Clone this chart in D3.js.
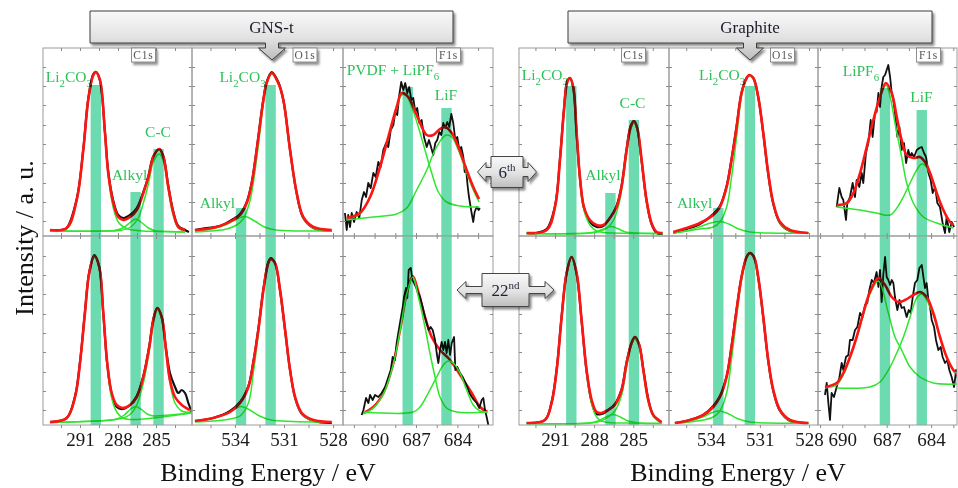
<!DOCTYPE html>
<html><head><meta charset="utf-8">
<script src="https://cdn.jsdelivr.net/npm/d3@7"></script>
<style>body{margin:0;background:#fff}svg{display:block;background:#fff}</style>
</head><body>
<svg id="c" width="958" height="488"></svg>
<script>
// ---------------- DATA ----------------
const samples = ["GNS-t", "Graphite"];
const cycles = ["6th", "22nd"];
const regions = ["C1s", "O1s", "F1s"];
const majorTicks = { C1s: [291, 288, 285], O1s: [534, 531, 528], F1s: [690, 687, 684] };
const minorTicks = { C1s: [292.5, 291, 289.5, 288, 286.5, 285, 283.5], O1s: [535.5, 534, 532.5, 531, 529.5, 528], F1s: [691.5, 690, 688.5, 687, 685.5, 684, 682.5] };
const intensityTicks = [15, 34, 53, 73, 92, 111, 131, 150, 169];
const intensityMax = 188;
const energyRange = {
  "GNS-t": { C1s: [293.92, 282.16], O1s: [536.63, 527.39], F1s: [692.29, 681.42] },
  "Graphite": { C1s: [293.76, 282.26], O1s: [536.55, 527.45], F1s: [691.64, 682.25] }
};
const componentNames = {
  "GNS-t": { C1s: ["Li2CO3", "Alkyl", "C-C"], O1s: ["Li2CO3", "Alkyl"], F1s: ["PVDF + LiPF6", "LiF"] },
  "Graphite": { C1s: ["Li2CO3", "Alkyl", "C-C"], O1s: ["Li2CO3", "Alkyl"], F1s: ["LiPF6", "LiF"] }
};
const peakEnergies = {
  "GNS-t": { C1s: [289.75, 286.61, 284.80], O1s: [531.82, 533.63], F1s: [687.6, 684.79] },
  "Graphite": { C1s: [289.75, 286.75, 284.95], O1s: [531.61, 533.54], F1s: [687.12, 684.63] }
};
// heights of the reference bars in the 6th-cycle row (a.u.)
const barHeights6th = {
  "GNS-t": { C1s: [151, 44, 87], O1s: [151, 28], F1s: [149, 128] },
  "Graphite": { C1s: [150, 43, 116], O1s: [150, 28], F1s: [148, 126] }
};

// ---- GNS-t, 6th cycle ----
const gnst6_C1s_raw = [[293.37,6],[292.5,6],[292.05,8],[291.26,37],[290.74,87],[290.35,137],[289.95,162],[289.74,164],[289.42,155],[289.03,104],[288.77,64],[288.37,35],[287.98,21],[287.58,18],[287.05,21],[286.52,28],[286.0,44],[285.6,60],[285.21,80],[284.74,87],[284.42,80],[284.03,50],[283.63,24],[283.24,10],[282.71,6],[282.4,4]];
const gnst6_C1s_fit = [[293.37,6],[292.05,8],[291.26,36],[290.74,86],[290.35,136],[289.95,161],[289.74,164],[289.42,156],[289.03,103],[288.77,63],[288.37,33],[287.98,19],[287.58,16],[287.05,19],[286.52,26],[286.0,43],[285.6,59],[285.21,79],[284.74,87],[284.42,79],[284.03,49],[283.63,23],[283.24,9],[282.71,6]];
const gnst6_C1s_li2co3 = [[293.37,5],[292.05,7],[291.26,35],[290.74,85],[290.35,135],[289.95,160],[289.74,163],[289.42,155],[289.03,101],[288.77,60],[288.37,28],[287.98,14],[287.58,9],[287.05,6.5],[286.0,5],[284.5,4.5],[282.71,4]];
const gnst6_C1s_alkyl = [[293.37,5],[289,5],[288.3,5.5],[287.6,8],[287.0,14],[286.6,17],[286.2,14],[285.6,8],[285.0,5],[284,4.5],[282.71,4]];
const gnst6_C1s_cc = [[293.37,5],[288.5,5],[287.8,5.5],[287.0,9],[286.4,18],[286.0,33],[285.6,52],[285.21,74],[284.74,82],[284.42,75],[284.03,46],[283.63,20],[283.24,8],[282.71,5]];

const gnst6_O1s_raw = [[536.45,6],[535.73,8],[534.92,10],[534.10,17],[533.69,22],[533.28,34],[532.97,54],[532.67,87],[532.26,137],[532.06,154],[531.75,164],[531.35,154],[531.04,136],[530.63,86],[530.22,42],[529.82,18],[529.2,8],[528.08,5]];
const gnst6_O1s_fit = [[536.45,6],[535.73,7],[534.92,10],[534.10,16],[533.69,21],[533.28,33],[532.97,53],[532.67,86],[532.26,136],[532.06,153],[531.75,163],[531.35,153],[531.04,136],[530.63,86],[530.22,43],[529.82,19],[529.2,9],[528.08,6]];
const gnst6_O1s_li2co3 = [[536.45,4],[535.5,5],[534.5,7],[533.9,11],[533.5,17],[533.1,34],[532.8,62],[532.5,100],[532.26,134],[532.06,152],[531.75,162],[531.35,152],[531.04,135],[530.63,85],[530.22,42],[529.82,18],[529.2,8],[528.08,5]];
const gnst6_O1s_alkyl = [[536.45,5],[535.5,7],[534.6,11],[534.0,16],[533.39,19.5],[532.8,15],[532.2,9],[531.5,6],[530,5],[528.08,5]];

const gnst6_F1s_raw = [[692.15,23],[692.02,6],[691.91,21],[691.78,9],[691.66,23],[691.49,14],[691.30,24],[691.11,18],[690.93,36],[690.77,44],[690.62,39],[690.46,53],[690.28,48],[690.09,63],[689.92,59],[689.73,74],[689.56,69],[689.37,86],[689.17,93],[689.01,89],[688.83,106],[688.64,111],[688.50,124],[688.36,121],[688.21,141],[688.07,154],[687.92,146],[687.78,153],[687.63,143],[687.49,149],[687.34,136],[687.20,138],[687.05,124],[686.91,128],[686.76,113],[686.59,116],[686.42,99],[686.22,89],[686.06,96],[685.89,88],[685.75,81],[685.60,93],[685.46,96],[685.31,104],[685.17,101],[685.02,113],[684.88,108],[684.73,114],[684.59,109],[684.44,122],[684.30,113],[684.15,96],[684.01,99],[683.86,86],[683.72,89],[683.57,79],[683.47,64],[683.38,69],[683.28,53],[683.18,41],[683.09,33],[682.97,23],[682.85,14],[682.75,24],[682.60,29],[682.46,26],[682.37,28]];
const gnst6_F1s_fit = [[692.02,18],[691.06,23],[690.33,39],[689.61,69],[689.01,99],[688.40,129],[688.04,143],[687.56,139],[686.95,121],[686.22,101],[685.75,101],[685.26,107],[684.90,109],[684.41,103],[683.93,89],[683.33,66],[682.85,49],[682.43,37]];
const gnst6_F1s_pvdf = [[692.02,17],[691.06,22],[690.33,38],[689.61,68],[689.01,98],[688.40,127],[688.04,141],[687.7,140],[687.31,129],[686.83,109],[686.35,86],[685.86,63],[685.38,44],[684.78,34],[683.81,30],[682.43,29]];
const gnst6_F1s_lif = [[692.02,16],[690.09,19],[688.40,22],[687.67,28],[686.95,46],[686.22,66],[685.62,86],[685.02,99],[684.78,101],[684.41,99],[683.93,86],[683.33,63],[682.85,46],[682.43,34]];

// ---- GNS-t, 22nd cycle ----
const gnst22_C1s_raw = [[293.37,3],[292.05,7],[291.39,29],[291.0,63],[290.61,113],[290.27,153],[289.87,170],[289.48,158],[289.16,111],[288.85,61],[288.5,31],[288.1,18],[287.63,16],[287.05,20],[286.52,29],[286.0,49],[285.53,79],[285.21,106],[284.9,117],[284.55,108],[284.21,76],[283.9,52],[283.5,38],[283.24,32],[282.97,35],[282.71,32],[282.45,22],[282.18,13]];
const gnst22_C1s_fit = [[293.37,3],[292.05,7],[291.39,28],[291.0,62],[290.61,112],[290.27,152],[289.87,169],[289.48,158],[289.16,112],[288.85,62],[288.5,32],[288.1,20],[287.63,17],[287.05,20],[286.52,28],[286.0,48],[285.53,78],[285.21,105],[284.9,117],[284.55,108],[284.21,75],[283.9,45],[283.5,28],[282.97,20],[282.18,14]];
const gnst22_C1s_li2co3 = [[293.37,2.5],[292.05,6],[291.39,27],[291.0,61],[290.61,111],[290.27,151],[289.87,168],[289.48,157],[289.16,110],[288.85,59],[288.5,27],[288.1,13],[287.63,7],[287.05,5.5],[286.0,6],[284.5,8],[282.18,12]];
const gnst22_C1s_alkyl = [[293.37,2.5],[289,4.5],[288.1,6],[287.5,10],[287.0,16],[286.6,18.5],[286.2,16],[285.7,11],[285.2,9],[284.5,9.5],[282.18,12]];
const gnst22_C1s_cc = [[293.37,2.5],[288.5,5],[287.6,7],[287.0,11],[286.52,20],[286.0,42],[285.53,74],[285.21,102],[284.9,115],[284.55,106],[284.21,72],[283.9,42],[283.5,22],[282.97,14],[282.18,12.5]];

const gnst22_O1s_raw = [[536.45,4],[535.33,7],[534.30,14],[533.69,23],[533.18,39],[532.88,63],[532.57,96],[532.26,136],[531.96,163],[531.81,167],[531.55,162],[531.24,134],[530.93,94],[530.63,55],[530.32,27],[529.91,11],[529.2,4],[528.08,2]];
const gnst22_O1s_fit = [[536.45,4],[535.33,7],[534.30,13],[533.69,22],[533.18,38],[532.88,62],[532.57,95],[532.26,135],[531.96,162],[531.81,166],[531.55,162],[531.24,135],[530.93,95],[530.63,55],[530.32,28],[529.91,12],[529.2,5],[528.08,3]];
const gnst22_O1s_li2co3 = [[536.45,3],[535.33,4],[534.30,6],[533.69,9],[533.18,22],[532.88,52],[532.57,91],[532.26,134],[531.96,161],[531.81,165],[531.55,161],[531.24,134],[530.93,94],[530.63,54],[530.32,27],[529.91,11],[529.2,4],[528.08,3]];
const gnst22_O1s_alkyl = [[536.45,4],[535.3,7],[534.4,12],[533.9,17],[533.59,18.5],[533.1,15],[532.5,9],[531.8,5],[530.5,3.5],[528.08,3]];

const gnst22_F1s_raw = [[690.94,10],[690.81,15],[690.62,27],[690.45,22],[690.33,30],[690.14,25],[689.97,30],[689.73,28],[689.49,32],[689.24,38],[689.0,48],[688.83,55],[688.69,68],[688.52,65],[688.40,82],[688.28,92],[688.16,102],[687.96,118],[687.87,128],[687.72,137],[687.63,127],[687.53,155],[687.38,157],[687.26,145],[687.14,142],[687.0,138],[686.88,133],[686.71,128],[686.52,118],[686.35,108],[686.23,102],[686.08,95],[685.94,98],[685.79,95],[685.62,85],[685.50,72],[685.38,62],[685.26,75],[685.14,83],[685.02,75],[684.90,83],[684.78,72],[684.66,85],[684.53,70],[684.41,82],[684.24,88],[684.15,55],[684.0,58],[683.81,52],[683.62,48],[683.45,43],[683.28,38],[683.13,32],[682.96,28],[682.80,25],[682.60,22],[682.41,17],[682.24,25],[682.12,27],[682.0,15],[681.88,8],[681.76,0]];
const gnst22_F1s_fit = [[690.81,12],[690.09,18],[689.36,32],[688.64,62],[688.16,95],[687.67,132],[687.24,149],[686.83,133],[686.35,108],[685.86,88],[685.26,75],[684.66,67],[684.17,58],[683.57,45],[682.96,32],[682.36,18],[681.83,13]];
const gnst22_F1s_pvdf = [[690.81,11],[690.09,17],[689.36,31],[688.64,61],[688.16,94],[687.67,131],[687.24,148],[686.83,128],[686.35,98],[685.99,72],[685.62,48],[685.26,28],[684.78,17],[684.05,13],[681.83,13]];
const gnst22_F1s_lif = [[690.81,13],[687.2,13],[686.71,18],[686.11,32],[685.50,48],[685.02,60],[684.66,64],[684.30,62],[683.81,52],[683.33,35],[682.85,20],[682.37,14],[681.83,13]];

// ---- Graphite, 6th cycle ----
const gra6_C1s_raw = [[293.17,3],[292.5,3],[291.64,7],[291.0,30],[290.62,77],[290.31,127],[290.06,155],[289.85,158],[289.6,148],[289.34,102],[289.09,58],[288.78,28],[288.32,14],[287.81,9],[287.30,10],[286.79,18],[286.28,30],[285.9,50],[285.51,87],[285.20,110],[284.95,115],[284.69,107],[284.36,75],[283.98,35],[283.6,12],[283.21,3],[282.75,2]];
const gra6_C1s_fit = [[293.17,3],[291.64,6],[291.0,29],[290.62,76],[290.31,126],[290.06,154],[289.85,158],[289.6,149],[289.34,103],[289.09,59],[288.78,29],[288.32,16],[287.81,11],[287.30,11],[286.79,18],[286.28,29],[285.9,49],[285.51,86],[285.20,109],[284.95,115],[284.69,108],[284.36,76],[283.98,36],[283.6,13],[283.21,4],[282.75,3]];
const gra6_C1s_li2co3 = [[293.17,2.5],[291.64,5.5],[291.0,28],[290.62,75],[290.31,125],[290.06,153],[289.85,157],[289.6,148],[289.34,101],[289.09,57],[288.78,26],[288.32,11],[287.81,5],[287.3,3.5],[286.5,3],[282.75,2.5]];
const gra6_C1s_alkyl = [[293.17,2.5],[288.5,3],[287.8,4.5],[287.2,7.5],[286.7,9.5],[286.2,7.5],[285.6,4],[284.8,3],[282.75,2.5]];
const gra6_C1s_cc = [[293.17,2.5],[288.3,3],[287.6,4.5],[287.0,8],[286.5,16],[286.1,32],[285.9,45],[285.51,82],[285.2,106],[284.95,113],[284.69,106],[284.36,74],[283.98,34],[283.6,12],[283.21,4],[282.75,2.5]];

const gra6_O1s_raw = [[536.29,3],[535.48,7],[534.66,12],[533.85,22],[533.44,30],[533.03,50],[532.73,77],[532.42,110],[532.12,143],[531.81,158],[531.65,161],[531.40,158],[531.10,139],[530.79,102],[530.49,62],[530.18,32],[529.77,13],[529.16,5],[528.04,3]];
const gra6_O1s_fit = [[536.29,4],[535.48,8],[534.66,13],[533.85,21],[533.44,29],[533.03,49],[532.73,76],[532.42,109],[532.12,143],[531.81,158],[531.65,161],[531.40,158],[531.10,139],[530.79,103],[530.49,63],[530.18,33],[529.77,14],[529.16,6],[528.04,3]];
const gra6_O1s_li2co3 = [[536.29,3],[535.48,5],[534.66,7],[533.85,9],[533.44,14],[533.03,29],[532.73,59],[532.42,99],[532.12,140],[531.81,157],[531.65,160],[531.40,157],[531.10,138],[530.79,102],[530.49,62],[530.18,32],[529.77,13],[529.16,5],[528.04,3]];
const gra6_O1s_alkyl = [[536.29,3],[535.5,5],[534.7,9],[534.0,13],[533.44,14.5],[532.9,12],[532.3,7],[531.6,4],[530.5,3],[528.04,3]];

const gra6_F1s_raw = [[690.38,29],[690.20,48],[690.04,39],[689.93,36],[689.75,16],[689.66,33],[689.48,39],[689.30,53],[689.14,39],[689.03,56],[688.85,49],[688.69,63],[688.58,53],[688.40,83],[688.24,93],[688.08,116],[687.95,99],[687.79,123],[687.68,124],[687.56,143],[687.45,129],[687.34,149],[687.23,159],[687.11,161],[687.0,166],[686.89,171],[686.77,159],[686.66,143],[686.55,136],[686.44,123],[686.28,99],[686.14,109],[685.99,86],[685.83,93],[685.69,73],[685.54,86],[685.42,79],[685.31,83],[685.15,79],[684.97,86],[684.79,88],[684.63,89],[684.48,83],[684.34,79],[684.18,63],[684.03,56],[683.89,43],[683.73,49],[683.58,33],[683.40,29],[683.22,13],[683.06,3],[682.95,19],[682.77,4],[682.61,14],[682.45,9]];
const gra6_F1s_fit = [[690.38,31],[689.70,33],[689.25,43],[688.80,63],[688.35,89],[687.90,116],[687.45,139],[687.05,153],[686.66,143],[686.32,119],[685.99,96],[685.65,81],[685.20,78],[684.75,79],[684.41,74],[684.07,63],[683.62,43],[683.17,26],[682.72,14],[682.50,11]];
const gra6_F1s_lipf6 = [[690.38,30],[689.70,32],[689.25,42],[688.80,62],[688.35,88],[687.90,115],[687.45,138],[687.05,151],[686.78,140],[686.44,113],[685.99,79],[685.65,53],[685.20,33],[684.52,19],[683.62,13],[682.50,8]];
const gra6_F1s_lif = [[690.38,29],[688.8,26],[687.68,23],[686.77,21],[686.10,33],[685.42,53],[684.97,66],[684.63,72],[684.30,69],[683.85,53],[683.40,33],[682.72,14],[682.50,11]];

// ---- Graphite, 22nd cycle ----
const gra22_C1s_raw = [[293.17,2],[291.77,5],[291.26,23],[290.87,56],[290.49,109],[290.11,152],[289.73,168],[289.34,151],[288.96,104],[288.58,54],[288.19,23],[287.81,11],[287.43,11],[286.92,15],[286.41,21],[285.89,36],[285.51,63],[285.13,82],[284.87,88],[284.54,80],[284.23,56],[283.85,26],[283.47,10],[282.83,2]];
const gra22_C1s_fit = [[293.17,2],[291.77,5],[291.26,22],[290.87,55],[290.49,108],[290.11,152],[289.73,168],[289.34,152],[288.96,105],[288.58,55],[288.19,25],[287.81,13],[287.43,12],[286.92,15],[286.41,20],[285.89,35],[285.51,62],[285.13,82],[284.87,88],[284.54,80],[284.23,55],[283.85,25],[283.47,10],[282.83,3]];
const gra22_C1s_li2co3 = [[293.17,1.5],[291.77,4.5],[291.26,21],[290.87,54],[290.49,107],[290.11,151],[289.73,167],[289.34,151],[288.96,103],[288.58,52],[288.19,21],[287.81,8],[287.43,4],[286.9,2.5],[285.5,2],[282.83,1.5]];
const gra22_C1s_alkyl = [[293.17,1.5],[288.4,2],[287.7,4],[287.1,8],[286.53,10.5],[286.0,8],[285.4,4],[284.6,2],[282.83,1.5]];
const gra22_C1s_cc = [[293.17,1.5],[288.2,2],[287.5,4],[286.9,8],[286.41,14],[285.89,30],[285.51,58],[285.13,80],[284.87,86],[284.54,78],[284.23,53],[283.85,23],[283.47,9],[282.83,2]];

const gra22_O1s_raw = [[536.19,2],[535.27,5],[534.46,10],[533.85,19],[533.44,29],[533.03,49],[532.73,79],[532.42,116],[532.12,148],[531.81,168],[531.61,172],[531.36,168],[531.10,147],[530.79,107],[530.49,64],[530.18,34],[529.77,14],[529.16,4],[528.04,2]];
const gra22_O1s_fit = [[536.19,2],[535.27,5],[534.46,10],[533.85,18],[533.44,28],[533.03,48],[532.73,78],[532.42,115],[532.12,148],[531.81,168],[531.61,172],[531.36,168],[531.10,148],[530.79,108],[530.49,65],[530.18,35],[529.77,15],[529.16,5],[528.04,2]];
const gra22_O1s_li2co3 = [[536.19,1.5],[535.27,3],[534.46,5],[533.85,8],[533.44,14],[533.03,32],[532.73,66],[532.42,108],[532.12,145],[531.81,167],[531.61,171],[531.36,167],[531.10,147],[530.79,107],[530.49,64],[530.18,34],[529.77,14],[529.16,4],[528.04,2]];
const gra22_O1s_alkyl = [[536.19,2],[535.3,4],[534.5,8],[533.9,12.5],[533.44,14],[532.9,11],[532.3,6],[531.6,3],[530.5,2],[528.04,2]];

const gra22_F1s_raw = [[691.17,30],[691.05,42],[690.94,22],[690.83,5],[690.72,32],[690.56,28],[690.38,38],[690.20,47],[690.04,62],[689.93,55],[689.75,68],[689.59,70],[689.48,85],[689.30,85],[689.14,95],[688.98,98],[688.80,112],[688.62,108],[688.46,120],[688.31,122],[688.17,135],[688.01,145],[687.86,142],[687.68,153],[687.56,138],[687.45,155],[687.34,123],[687.23,150],[687.11,168],[687.0,148],[686.89,145],[686.77,140],[686.66,145],[686.55,142],[686.44,128],[686.28,115],[686.14,125],[685.99,117],[685.83,118],[685.65,108],[685.51,115],[685.38,112],[685.24,128],[685.09,142],[684.93,145],[684.79,157],[684.63,160],[684.52,148],[684.41,137],[684.30,142],[684.18,125],[684.07,118],[683.96,105],[683.80,98],[683.67,85],[683.51,75],[683.35,78],[683.22,68],[683.06,62],[682.90,65],[682.77,55],[682.61,48],[682.45,38],[682.31,55],[682.18,45]];
const gra22_F1s_fit = [[691.17,38],[690.38,42],[689.93,52],[689.48,68],[689.03,88],[688.58,112],[688.13,133],[687.56,147],[687.11,140],[686.66,128],[686.21,123],[685.76,125],[685.20,130],[684.75,133],[684.30,128],[683.85,112],[683.40,88],[682.95,68],[682.50,55],[682.18,50]];
const gra22_F1s_lipf6 = [[691.17,37],[690.38,40],[689.93,50],[689.48,67],[689.03,87],[688.58,110],[688.13,131],[687.56,144],[686.89,112],[686.44,88],[685.99,75],[685.42,58],[684.75,48],[683.85,42],[682.18,41]];
const gra22_F1s_lif = [[690.38,37],[688.13,38],[687.45,43],[686.77,58],[686.32,72],[685.87,88],[685.42,108],[684.97,127],[684.63,131],[684.30,125],[683.85,110],[683.40,88],[682.95,68],[682.50,55],[682.18,50]];

// table of panels built from the arrays above
const panels = [
  { sample: "GNS-t", cycle: "6th", region: "C1s", raw: gnst6_C1s_raw, fit: gnst6_C1s_fit, comps: [gnst6_C1s_li2co3, gnst6_C1s_alkyl, gnst6_C1s_cc] },
  { sample: "GNS-t", cycle: "6th", region: "O1s", raw: gnst6_O1s_raw, fit: gnst6_O1s_fit, comps: [gnst6_O1s_li2co3, gnst6_O1s_alkyl] },
  { sample: "GNS-t", cycle: "6th", region: "F1s", raw: gnst6_F1s_raw, fit: gnst6_F1s_fit, comps: [gnst6_F1s_pvdf, gnst6_F1s_lif] },
  { sample: "GNS-t", cycle: "22nd", region: "C1s", raw: gnst22_C1s_raw, fit: gnst22_C1s_fit, comps: [gnst22_C1s_li2co3, gnst22_C1s_alkyl, gnst22_C1s_cc] },
  { sample: "GNS-t", cycle: "22nd", region: "O1s", raw: gnst22_O1s_raw, fit: gnst22_O1s_fit, comps: [gnst22_O1s_li2co3, gnst22_O1s_alkyl] },
  { sample: "GNS-t", cycle: "22nd", region: "F1s", raw: gnst22_F1s_raw, fit: gnst22_F1s_fit, comps: [gnst22_F1s_pvdf, gnst22_F1s_lif] },
  { sample: "Graphite", cycle: "6th", region: "C1s", raw: gra6_C1s_raw, fit: gra6_C1s_fit, comps: [gra6_C1s_li2co3, gra6_C1s_alkyl, gra6_C1s_cc] },
  { sample: "Graphite", cycle: "6th", region: "O1s", raw: gra6_O1s_raw, fit: gra6_O1s_fit, comps: [gra6_O1s_li2co3, gra6_O1s_alkyl] },
  { sample: "Graphite", cycle: "6th", region: "F1s", raw: gra6_F1s_raw, fit: gra6_F1s_fit, comps: [gra6_F1s_lipf6, gra6_F1s_lif] },
  { sample: "Graphite", cycle: "22nd", region: "C1s", raw: gra22_C1s_raw, fit: gra22_C1s_fit, comps: [gra22_C1s_li2co3, gra22_C1s_alkyl, gra22_C1s_cc] },
  { sample: "Graphite", cycle: "22nd", region: "O1s", raw: gra22_O1s_raw, fit: gra22_O1s_fit, comps: [gra22_O1s_li2co3, gra22_O1s_alkyl] },
  { sample: "Graphite", cycle: "22nd", region: "F1s", raw: gra22_F1s_raw, fit: gra22_F1s_fit, comps: [gra22_F1s_lipf6, gra22_F1s_lif] }
];

// ---------------- LAYOUT ----------------
const groupEdges = { "GNS-t": [43, 192, 343, 493], "Graphite": [519, 669, 818, 957] };
const rowEdges = [48, 236, 425];
const labelLayout = {
  "GNS-t": { C1s: [[293.7,154,"start"],[287.09,56,"middle"],[284.84,99,"middle"]], O1s: [[533.54,154,"middle"],[535.07,28,"middle"]], F1s: [[692.02,161,"start"],[684.83,136,"middle"]] },
  "Graphite": { C1s: [[293.55,156,"start"],[287.32,56,"middle"],[285.06,128,"middle"]], O1s: [[533.31,156,"middle"],[534.99,28,"middle"]], F1s: [[689.97,160,"start"],[684.65,134,"middle"]] }
};
const tagCenters = { "GNS-t": [143.5, 305, 448.5], "Graphite": [633.5, 782.5, 928.5] };
const headers = [{ text: "GNS-t", x0: 90, x1: 453, cx: 272 }, { text: "Graphite", x0: 568, x1: 932, cx: 750 }];
const callouts = [
  { main: "6", sup: "th", cx: 507, cy: 172, bw: 32, bh: 31, sh: 9, hh: 19, hb: 21, tip: 29.5 },
  { main: "22", sup: "nd", cx: 505.5, cy: 290, bw: 47, bh: 33, sh: 7, hh: 17, hb: 39.5, tip: 48.5 }
];
const SERIF = "'Liberation Serif','Times New Roman',serif";
const labelColor = "#2cc257";

// ---------------- DRAW ----------------
const svg = d3.select("#c");
const defs = svg.append("defs");
const grad = defs.append("linearGradient").attr("id", "gg").attr("x1", 0).attr("y1", 0).attr("x2", 0).attr("y2", 1);
grad.append("stop").attr("offset", "0%").attr("stop-color", "#f9f9f9");
grad.append("stop").attr("offset", "55%").attr("stop-color", "#e2e2e2");
grad.append("stop").attr("offset", "100%").attr("stop-color", "#bdbdbd");
const filt = defs.append("filter").attr("id", "sh").attr("x", "-20%").attr("y", "-30%").attr("width", "150%").attr("height", "180%");
filt.append("feDropShadow").attr("dx", 2).attr("dy", 2.5).attr("stdDeviation", 1.3).attr("flood-color", "#000").attr("flood-opacity", 0.45);

function chem(textSel, str, fs) {
  const parts = str.match(/\d+|\D+/g);
  let sub = false;
  parts.forEach(p => {
    const isNum = /\d/.test(p);
    const t = textSel.append("tspan").text(p);
    if (isNum && !sub) { t.attr("dy", fs * 0.3).attr("font-size", fs * 0.7); sub = true; }
    else if (!isNum && sub) { t.attr("dy", -fs * 0.3); sub = false; }
  });
}

panels.forEach((p, idx) => {
  const ri = cycles.indexOf(p.cycle), ci = regions.indexOf(p.region);
  const xe = groupEdges[p.sample];
  const x0 = xe[ci], x1 = xe[ci + 1];
  const yt = rowEdges[ri], yb = rowEdges[ri + 1];
  const x = d3.scaleLinear().domain(energyRange[p.sample][p.region]).range([x0, x1]);
  const y = d3.scaleLinear().domain([0, intensityMax]).range([yb, yb - intensityMax]);
  const g = svg.append("g");
  const cid = "clip" + idx;
  defs.append("clipPath").attr("id", cid).append("rect").attr("x", x0).attr("y", yt).attr("width", x1 - x0).attr("height", yb - yt);
  const inner = g.append("g").attr("clip-path", `url(#${cid})`);

  const smooth = d3.line().x(d => x(d[0])).y(d => y(d[1])).curve(d3.curveCatmullRom.alpha(0.5));
  const jag = d3.line().x(d => x(d[0])).y(d => y(d[1]));
  const noisy = p.region === "F1s";

  const drawRaw = () => inner.append("path").datum(p.raw).attr("d", noisy ? jag : smooth)
    .attr("fill", "none").attr("stroke", "#111").attr("stroke-width", noisy ? 1.8 : 2.2).attr("stroke-linejoin", "round");
  const drawFit = () => inner.append("path").datum(p.fit).attr("d", smooth)
    .attr("fill", "none").attr("stroke", "#ff1414").attr("stroke-width", 2.6);
  const drawComps = () => p.comps.forEach(c => inner.append("path").datum(c).attr("d", smooth)
    .attr("fill", "none").attr("stroke", "#2fe62f").attr("stroke-width", 1.5));

  if (p.sample === "GNS-t" && p.cycle === "22nd" && p.region === "F1s") { drawFit(); drawRaw(); drawComps(); }
  else { drawRaw(); drawComps(); drawFit(); }

  // reference bars
  const pe = peakEnergies[p.sample][p.region];
  pe.forEach((e, k) => {
    const top = ri === 0 ? y(barHeights6th[p.sample][p.region][k]) : yt;
    inner.append("rect").attr("x", x(e) - 5.2).attr("width", 10.4).attr("y", top).attr("height", yb - top)
      .attr("fill", "#6cdcb0").style("mix-blend-mode", "multiply");
  });

  // frame
  g.append("rect").attr("x", x0).attr("y", yt).attr("width", x1 - x0).attr("height", yb - yt)
    .attr("fill", "none").attr("stroke", "#9c9c9c").attr("stroke-width", 1);

  // ticks
  const tickStyle = s => { s.select(".domain").remove(); s.selectAll("line").attr("stroke", "#8a8a8a"); };
  g.append("g").attr("transform", `translate(${x0},0)`).call(d3.axisLeft(y).tickValues(intensityTicks).tickSize(-3).tickFormat("")).call(tickStyle);
  g.append("g").attr("transform", `translate(${x1},0)`).call(d3.axisRight(y).tickValues(intensityTicks).tickSize(-3).tickFormat("")).call(tickStyle);
  g.append("g").attr("transform", `translate(0,${yt})`).call(d3.axisTop(x).tickValues(minorTicks[p.region]).tickSize(-3).tickFormat("")).call(tickStyle);
  if (ri === 1) {
    const ax = g.append("g").attr("transform", `translate(0,${yb})`)
      .call(d3.axisBottom(x).tickValues(minorTicks[p.region]).tickSize(3).tickPadding(4.5)
        .tickFormat(d => majorTicks[p.region].includes(d) ? d : ""));
    ax.call(tickStyle);
    ax.selectAll("text").attr("font-family", SERIF).attr("font-size", 19).attr("fill", "#1a1a1a");
  } else {
    g.append("g").attr("transform", `translate(0,${yb})`).call(d3.axisBottom(x).tickValues(minorTicks[p.region]).tickSize(-3).tickFormat("")).call(tickStyle);
  }

  // component labels & region tag (6th row only)
  if (ri === 0) {
    componentNames[p.sample][p.region].forEach((nm, k) => {
      const L = labelLayout[p.sample][p.region][k];
      const t = g.append("text").attr("x", x(L[0])).attr("y", y(L[1])).attr("text-anchor", L[2])
        .attr("font-family", SERIF).attr("font-size", 15.5).attr("fill", labelColor)
        .style("mix-blend-mode", "multiply");
      chem(t, nm, 15.5);
    });
    const tc = tagCenters[p.sample][ci];
    const tg = g.append("g").attr("filter", "url(#sh)");
    tg.append("rect").attr("x", tc - 12).attr("y", yt).attr("width", 24).attr("height", 14)
      .attr("fill", "#fff").attr("stroke", "#777").attr("stroke-width", 0.8);
    g.append("text").attr("x", tc).attr("y", yt + 11).attr("text-anchor", "middle")
      .attr("font-family", SERIF).attr("font-size", 11.5).attr("letter-spacing", 0.8).attr("fill", "#555").text(p.region);
  }
});

// header boxes
headers.forEach(h => {
  const c = h.cx;
  const path = `M${h.x0},11 H${h.x1} V43 H${c + 6.5} V48 H${c + 13.5} L${c},60 L${c - 13.5},48 H${c - 6.5} V43 H${h.x0} Z`;
  svg.append("path").attr("d", path).attr("fill", "url(#gg)").attr("stroke", "#3c3c3c").attr("stroke-width", 1).attr("filter", "url(#sh)");
  svg.append("text").attr("x", (h.x0 + h.x1) / 2).attr("y", 33).attr("text-anchor", "middle")
    .attr("font-family", SERIF).attr("font-size", 17).attr("fill", "#1c1c2c").text(h.text);
});

// cycle callouts
callouts.forEach(o => {
  const { cx, cy, bw, bh, sh, hh, hb, tip } = o;
  const L = cx - bw / 2, R = cx + bw / 2, T = cy - bh / 2, B = cy + bh / 2;
  const d = `M${L},${T} H${R} V${cy - sh / 2} H${cx + hb} V${cy - hh / 2} L${cx + tip},${cy} L${cx + hb},${cy + hh / 2} V${cy + sh / 2} H${R} V${B} H${L} V${cy + sh / 2} H${cx - hb} V${cy + hh / 2} L${cx - tip},${cy} L${cx - hb},${cy - hh / 2} V${cy - sh / 2} H${L} Z`;
  svg.append("path").attr("d", d).attr("fill", "url(#gg)").attr("stroke", "#444").attr("stroke-width", 1).attr("filter", "url(#sh)");
  const t = svg.append("text").attr("x", cx).attr("y", cy + 6).attr("text-anchor", "middle")
    .attr("font-family", SERIF).attr("font-size", 17).attr("fill", "#1c2238");
  t.append("tspan").text(o.main);
  t.append("tspan").attr("dy", -7).attr("font-size", 11).text(o.sup);
});

// axis titles
svg.append("text").attr("transform", "translate(33,238) rotate(-90)").attr("text-anchor", "middle")
  .attr("font-family", SERIF).attr("font-size", 26).attr("fill", "#111").text("Intensity / a. u.");
[[43, 493], [519, 957]].forEach(([a, b]) => {
  svg.append("text").attr("x", (a + b) / 2).attr("y", 481).attr("text-anchor", "middle")
    .attr("font-family", SERIF).attr("font-size", 26).attr("fill", "#111").text("Binding Energy / eV");
});
</script>
</body></html>
